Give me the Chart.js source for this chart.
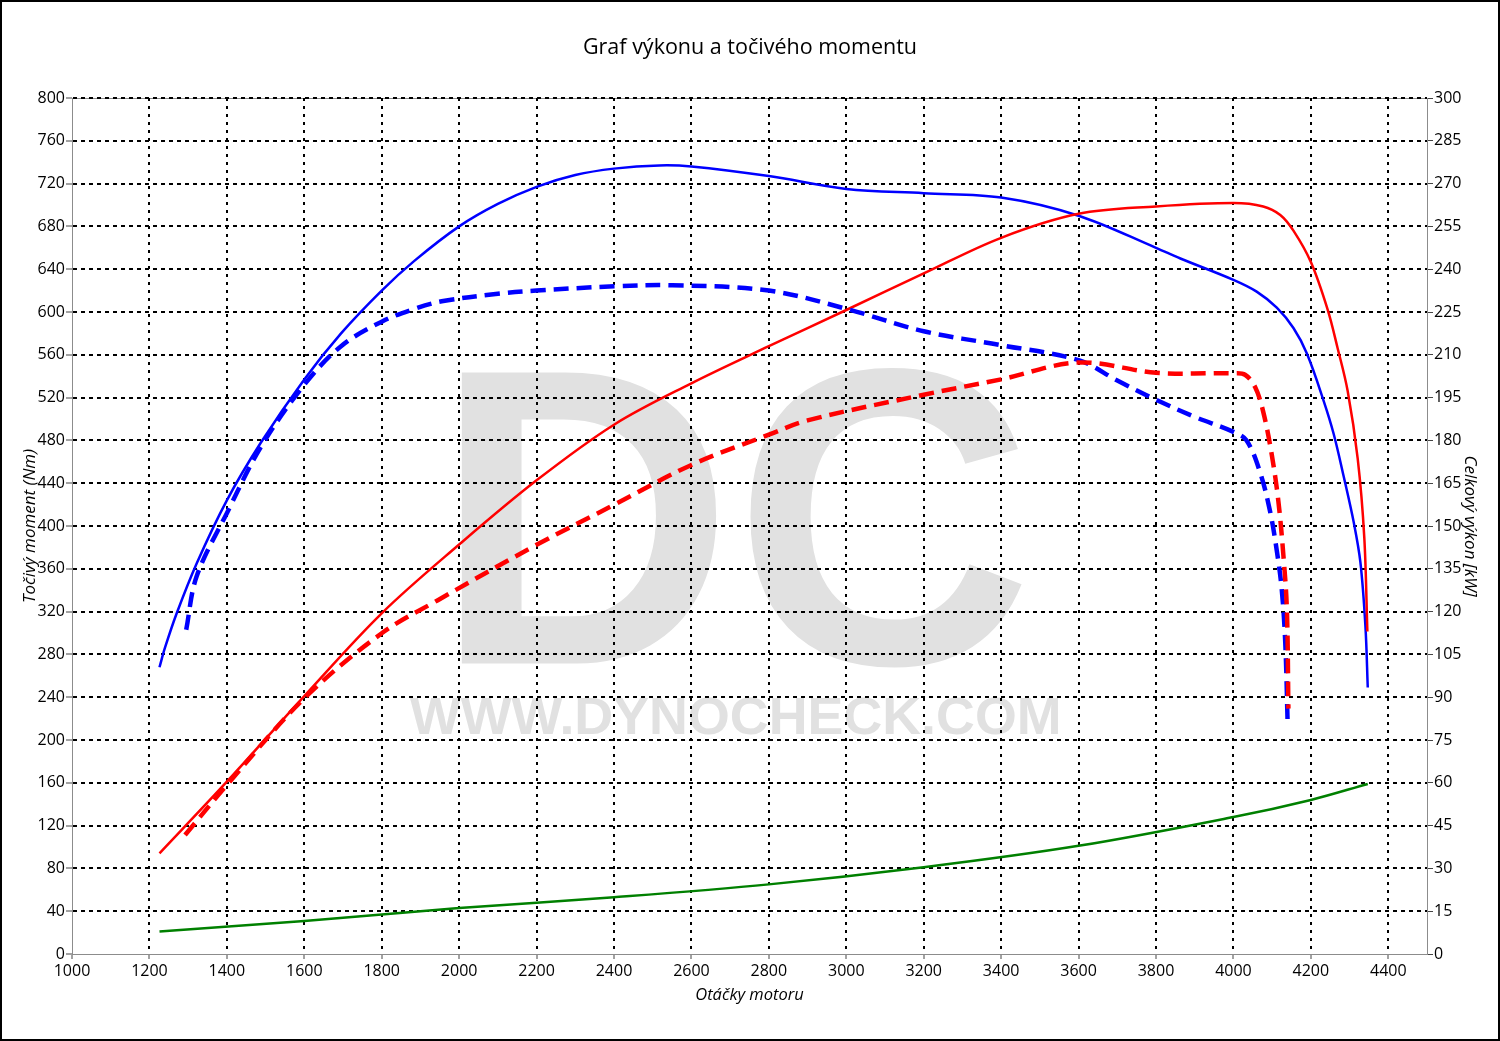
<!DOCTYPE html>
<html lang="cs">
<head>
<meta charset="utf-8">
<title>Graf výkonu a točivého momentu</title>
<script src="https://cdn.jsdelivr.net/npm/chart.js@4.4.1/dist/chart.umd.min.js"></script>
<style>
  html, body { margin: 0; padding: 0; background: #fff; }
  #wrap { width: 1500px; height: 1041px; }
</style>
</head>
<body>
<div id="wrap"><canvas id="graf" width="1500" height="1041"></canvas></div>
<script>
// --- data ---
// točivý moment po úpravě (Nm)
const tunedTorqueRpm = [1226, 1240, 1270, 1322, 1400, 1488, 1600, 1695, 1800, 1885, 2000, 2100, 2200, 2300, 2400, 2517, 2600, 2800, 3000, 3200, 3400, 3600, 3800, 3863, 4000, 4060, 4112, 4155, 4190, 4233, 4259, 4285, 4311, 4328, 4341, 4347];
const tunedTorque    = [268, 286, 318, 365, 424, 478, 537, 580, 620, 648, 680, 701, 717, 728, 734, 737, 736, 727, 715, 711, 707, 690, 660, 650, 630, 619, 604, 585, 561, 517, 486, 446, 403, 366, 306, 249];

// točivý moment sériový (Nm)
const stockTorqueRpm = [1295, 1322, 1400, 1488, 1600, 1695, 1800, 1885, 1955, 2100, 2200, 2400, 2550, 2800, 3000, 3200, 3400, 3600, 3700, 3800, 3900, 4000, 4034, 4069, 4095, 4112, 4125, 4134, 4140];
const stockTorque    = [303, 353, 412, 474, 532, 568, 591, 603, 610, 617, 620, 624, 625, 620, 603, 582, 569, 555, 536, 518, 502, 488, 480, 450, 413, 377, 340, 290, 216];

// výkon po úpravě (kW)
const tunedPowerRpm = [1226, 1400, 1600, 1800, 2000, 2200, 2400, 2600, 2800, 3000, 3200, 3400, 3600, 3800, 4000, 4077, 4121, 4155, 4200, 4243, 4269, 4295, 4321, 4338, 4346];
const tunedPower    = [35.3, 60.4, 90.4, 119.4, 143.5, 166, 185.5, 200, 213, 225.7, 238.5, 251, 259.4, 262, 263.2, 262, 259, 253.5, 242.5, 226, 212.4, 197.4, 173.6, 146, 113];

// výkon sériový (kW)
const stockPowerRpm = [1292, 1400, 1600, 1800, 1945, 2200, 2400, 2600, 2800, 2900, 3200, 3400, 3600, 3800, 4000, 4030, 4056, 4077, 4099, 4116, 4129, 4138, 4142];
const stockPower    = [41.7, 59.2, 89.6, 112.4, 124, 143.4, 157.4, 171.4, 182, 187, 196, 201.4, 207.3, 203.7, 203.5, 203, 198.7, 190, 175, 158.8, 139.8, 121, 86];

// ztrátový výkon (kW)
const lossRpm   = [1226, 1600, 2000, 2400, 2800, 3200, 3600, 4000, 4200, 4347];
const lossPower = [7.9, 11.6, 16.1, 19.9, 24.4, 30.4, 37.9, 48, 54, 59.6];

// osy
const rpmMin = 1000, rpmMax = 4500, rpmStep = 200;
const torqueMax = 800, torqueStep = 40;
const powerMax = 300, powerStep = 15;

const FONT = "'Open Sans', 'Noto Sans', sans-serif";

function zip(xs, ys) {
    return xs.map((x, i) => ({ x: x, y: ys[i] }));
}

// vodoznak DC + www.dynocheck.com, roztažený do daného obdélníku
function fitText(ctx, text, font, x1, y1, x2, y2) {
    ctx.save();
    ctx.font = font;
    const m = ctx.measureText(text);
    const w = m.actualBoundingBoxLeft + m.actualBoundingBoxRight;
    const h = m.actualBoundingBoxAscent + m.actualBoundingBoxDescent;
    ctx.translate(x1, y1);
    ctx.scale((x2 - x1) / w, (y2 - y1) / h);
    ctx.textBaseline = 'alphabetic';
    ctx.textAlign = 'left';
    ctx.fillText(text, m.actualBoundingBoxLeft, m.actualBoundingBoxAscent);
    ctx.restore();
}

const backgroundPlugin = {
    id: 'pozadi',
    beforeDraw(chart) {
        const { ctx, chartArea: a } = chart;
        ctx.save();
        ctx.fillStyle = '#e1e1e1';
        fitText(ctx, 'DC', "bold 400px 'Liberation Sans', Arial, sans-serif", 460, 366, 1025, 670);
        fitText(ctx, 'WWW.DYNOCHECK.COM', "bold 60px 'Liberation Sans', Arial, sans-serif", 410, 698, 1058, 735);
        ctx.strokeStyle = '#8c8c8c';
        ctx.lineWidth = 1;
        ctx.strokeRect(a.left + 0.5, a.top + 0.5, a.right - a.left, a.bottom - a.top);
        ctx.restore();
    },
    afterDraw(chart) {
        const ctx = chart.ctx;
        ctx.save();
        ctx.strokeStyle = '#000';
        ctx.lineWidth = 2;
        ctx.strokeRect(1, 1, chart.width - 2, chart.height - 2);
        ctx.restore();
    }
};

const hideFirst = (firstValue) => (c) =>
    (c.tick && c.tick.value === firstValue) ? 'rgba(0,0,0,0)' : '#000';

const ctx = document.getElementById('graf').getContext('2d');

new Chart(ctx, {
    type: 'line',
    data: {
        datasets: [
            {
                label: 'Výkon sériový',
                data: zip(stockPowerRpm, stockPower),
                yAxisID: 'yP',
                borderColor: '#ff0000',
                borderWidth: 4.5,
                borderDash: [15, 8]
            },
            {
                label: 'Moment sériový',
                data: zip(stockTorqueRpm, stockTorque),
                yAxisID: 'yM',
                borderColor: '#0000ff',
                borderWidth: 4.5,
                borderDash: [15, 8]
            },
            {
                label: 'Výkon po úpravě',
                data: zip(tunedPowerRpm, tunedPower),
                yAxisID: 'yP',
                borderColor: '#ff0000',
                borderWidth: 2.5
            },
            {
                label: 'Moment po úpravě',
                data: zip(tunedTorqueRpm, tunedTorque),
                yAxisID: 'yM',
                borderColor: '#0000ff',
                borderWidth: 2.5
            },
            {
                label: 'Ztrátový výkon',
                data: zip(lossRpm, lossPower),
                yAxisID: 'yP',
                borderColor: '#008000',
                borderWidth: 2.5
            }
        ]
    },
    options: {
        responsive: false,
        animation: false,
        devicePixelRatio: 1,
        layout: { padding: 0 },
        elements: {
            point: { radius: 0 },
            line: { tension: 0.35, fill: false, borderCapStyle: 'butt' }
        },
        plugins: {
            legend: { display: false },
            tooltip: { enabled: false },
            title: {
                display: true,
                text: 'Graf výkonu a točivého momentu',
                color: '#000',
                font: { family: FONT, size: 21.5, weight: 'normal', lineHeight: 1.2 },
                padding: { top: 35, bottom: 37.2 }
            }
        },
        scales: {
            x: {
                type: 'linear',
                position: 'bottom',
                min: rpmMin,
                max: rpmMax,
                afterFit: (s) => { s.height = 87; },
                ticks: {
                    stepSize: rpmStep,
                    includeBounds: false,
                    color: '#000',
                    padding: 3,
                    maxRotation: 0,
                    autoSkip: false,
                    font: { family: FONT, size: 16 },
                    callback: (v) => String(v)
                },
                grid: {
                    color: hideFirst(rpmMin),
                    lineWidth: 2,
                    tickLength: 5,
                    tickColor: '#444',
                    tickWidth: 1
                },
                border: { display: true, color: '#8c8c8c', width: 1, dash: [3, 5] },
                title: {
                    display: true,
                    text: 'Otáčky motoru',
                    color: '#000',
                    font: { family: FONT, size: 16.5, style: 'italic' },
                    padding: { top: 0, bottom: 36 }
                }
            },
            yM: {
                type: 'linear',
                position: 'left',
                min: 0,
                max: torqueMax,
                afterFit: (s) => { s.width = 72; },
                ticks: {
                    stepSize: torqueStep,
                    color: '#000',
                    padding: 1,
                    font: { family: FONT, size: 16 }
                },
                grid: {
                    color: hideFirst(0),
                    lineWidth: 2,
                    tickLength: 6,
                    tickColor: '#444',
                    tickWidth: 1
                },
                border: { display: true, color: '#8c8c8c', width: 1, dash: [4, 4] },
                title: {
                    display: true,
                    text: 'Točivý moment (Nm)',
                    color: '#000',
                    font: { family: FONT, size: 17, style: 'italic' },
                    padding: { top: 20, bottom: 0 }
                }
            },
            yP: {
                type: 'linear',
                position: 'right',
                min: 0,
                max: powerMax,
                afterFit: (s) => { s.width = 73; },
                ticks: {
                    stepSize: powerStep,
                    color: '#000',
                    padding: 1,
                    font: { family: FONT, size: 16 }
                },
                grid: {
                    drawOnChartArea: false,
                    tickLength: 6,
                    tickColor: '#444',
                    tickWidth: 1
                },
                border: { display: true, color: '#8c8c8c', width: 1 },
                title: {
                    display: true,
                    text: 'Celkový výkon [kW]',
                    color: '#000',
                    font: { family: FONT, size: 17, style: 'italic' },
                    padding: { top: 20, bottom: 0 }
                }
            }
        }
    },
    plugins: [backgroundPlugin]
});
</script>
</body>
</html>
